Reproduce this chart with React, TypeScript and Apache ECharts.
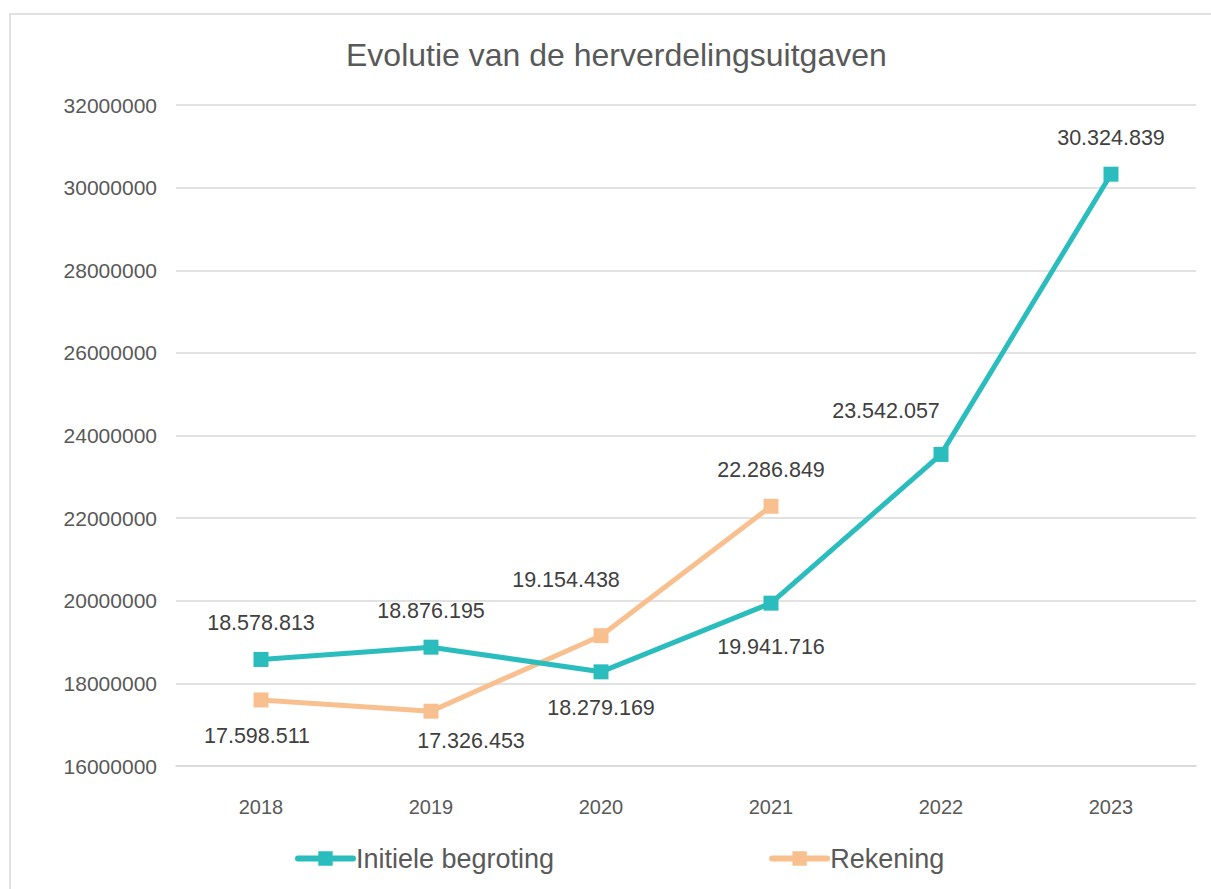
import React, { useEffect, useRef } from "react";
import * as echarts from "echarts";

const TITLE = "Evolutie van de herverdelingsuitgaven";
const categories = ["2018", "2019", "2020", "2021", "2022", "2023"];
const seriesNames = ["Initiele begroting", "Rekening"];
const initieleBegroting = [18578813, 18876195, 18279169, 19941716, 23542057, 30324839];
const rekening: (number | null)[] = [17598511, 17326453, 19154438, 22286849, null, null];
const yMin = 16000000;
const yMax = 32000000;
const yInterval = 2000000;

const FONT = "'Liberation Sans', Arial, sans-serif";
const TEAL = "#2BBDBD";
const PEACH = "#F9C08F";

const fmt = (v: number) => String(Math.round(v)).replace(/\B(?=(\d{3})+(?!\d))/g, ".");

// label placements (position, offset) per point
const initLabelPos: [string, number[]][] = [
  ["top", [0, 0]],
  ["top", [0, 0]],
  ["bottom", [0, 0]],
  ["bottom", [0, 7]],
  ["top", [-55, -7]],
  ["top", [0, 0]],
];
const rekLabelPos: [string, number[]][] = [
  ["bottom", [-4, 0]],
  ["bottom", [40, -7]],
  ["top", [-35, -19]],
  ["top", [0, 0]],
  ["top", [0, 0]],
  ["top", [0, 0]],
];

export default function App() {
  const ref = useRef<HTMLDivElement>(null);
  useEffect(() => {
    if (!ref.current) return;
    const chart = echarts.init(ref.current, undefined, { renderer: "svg" });
    const mkData = (vals: (number | null)[], pos: [string, number[]][]) =>
      vals.map((v, i) => ({
        value: v,
        label: { position: pos[i][0] as any, offset: pos[i][1] },
      }));
    const labelBase = {
      show: true,
      distance: 18,
      fontSize: 21.5,
      color: "#404040",
      fontFamily: FONT,
      formatter: (p: any) => (p.value == null ? "" : fmt(p.value)),
    };
    chart.setOption({
      animation: false,
      backgroundColor: "#ffffff",
      textStyle: { fontFamily: FONT },
      graphic: [
        {
          type: "rect",
          shape: { x: 10, y: 14, width: 1230, height: 900 },
          style: { fill: "none", stroke: "#D9D9D9", lineWidth: 1.5 },
          silent: true,
          z: -1,
        },
      ],
      title: {
        text: TITLE,
        left: 341,
        top: 34,
        textStyle: { fontSize: 32, fontWeight: "normal", color: "#595959", fontFamily: FONT },
      },
      legend: {
        data: seriesNames,
        left: 295,
        top: 845,
        padding: 0,
        itemGap: 215,
        itemWidth: 55,
        itemHeight: 18,
        lineStyle: { width: 6, cap: "round" },
        textStyle: { fontSize: 27, color: "#595959", fontFamily: FONT, padding: [0, 0, 0, -2] },
      },
      grid: { left: 176, right: 15, top: 105, bottom: 123 },
      xAxis: {
        type: "category",
        data: categories,
        boundaryGap: true,
        axisLine: { show: true, lineStyle: { color: "#D9D9D9", width: 1.5 } },
        axisTick: { show: false },
        axisLabel: { fontSize: 20, color: "#595959", margin: 31, fontFamily: FONT },
      },
      yAxis: {
        type: "value",
        min: yMin,
        max: yMax,
        interval: yInterval,
        axisLine: { show: false },
        axisTick: { show: false },
        axisLabel: {
          fontSize: 21,
          color: "#595959",
          margin: 19,
          fontFamily: FONT,
          formatter: (v: number) => String(v),
        },
        splitLine: { lineStyle: { color: "#D9D9D9", width: 1.5 } },
      },
      series: [
        {
          name: seriesNames[0],
          type: "line",
          data: mkData(initieleBegroting, initLabelPos),
          symbol: "rect",
          symbolSize: 15,
          itemStyle: { color: TEAL },
          lineStyle: { color: TEAL, width: 5 },
          label: labelBase,
          z: 3,
        },
        {
          name: seriesNames[1],
          type: "line",
          data: mkData(rekening, rekLabelPos),
          symbol: "rect",
          symbolSize: 15,
          itemStyle: { color: PEACH },
          lineStyle: { color: PEACH, width: 5 },
          label: labelBase,
          z: 2,
        },
      ],
    });
    return () => chart.dispose();
  }, []);
  return (
    <div
      ref={ref}
      style={{ position: "absolute", left: 0, top: 0, width: 1211, height: 889 }}
    />
  );
}
